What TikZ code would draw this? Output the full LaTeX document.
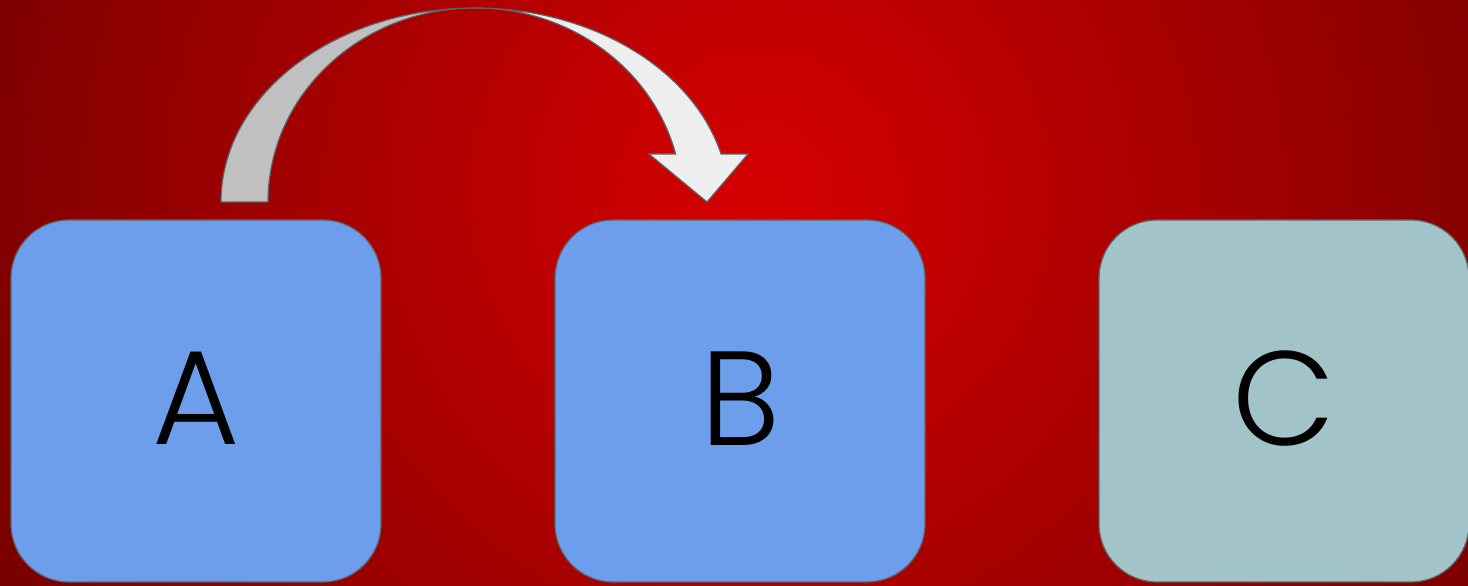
\documentclass[tikz,border=0pt]{standalone}
\usepackage{fontspec}
\newfontfamily\boxfont{Poppins}[UprightFont=* Light]
\definecolor{bgin}{HTML}{D60000}
\definecolor{bgout}{HTML}{7A0000}
\definecolor{boxblue}{HTML}{6D9EEB}
\definecolor{boxteal}{HTML}{A2C4C9}
\definecolor{edgegray}{HTML}{5F6368}
\definecolor{arrback}{HTML}{C0C0C0}
\definecolor{arrfront}{HTML}{EEEEEE}
\tikzset{
  stepbox/.style={draw=edgegray, line width=1.2pt, rounded corners=58pt,
    minimum width=370pt, minimum height=362pt, inner sep=0pt,
    font=\boxfont\fontsize{134}{140}\selectfont, text=black},
  arrowpart/.style={draw=edgegray, line width=1.2pt, line join=miter}
}
\begin{document}
\begin{tikzpicture}[x=1pt,y=1pt]
\useasboundingbox (0,0) rectangle (1468,586);
\fill[bgout] (0,0) rectangle (1468,586);
\begin{scope}
\clip (0,0) rectangle (1468,586);
\shade[inner color=bgin, outer color=bgout] (760,391) circle[radius=830pt];
\end{scope}
% boxes
\node[stepbox, fill=boxblue] (A) at (196,185) {\raisebox{5pt}{A}};
\node[stepbox, fill=boxblue] (B) at (740,185) {\raisebox{5pt}{B}};
\node[stepbox, fill=boxteal] (C) at (1284,185) {\raisebox{5pt}{C}};
% curved block arrow from A to B
\coordinate (tip) at (707,384);
\draw[arrowpart, fill=arrback] (221,384) arc[start angle=180, end angle=90, x radius=254pt, y radius=194pt]
  arc[start angle=90, end angle=180, x radius=207pt, y radius=194pt] -- cycle;
\draw[arrowpart, fill=arrfront] (475,578) arc[start angle=90, end angle=14.3, x radius=254pt, y radius=194pt]
  -- (748,432) -- (tip) -- (649,432) -- (675.6,432)
  arc[start angle=14.3, end angle=90, x radius=207pt, y radius=194pt] -- cycle;
\end{tikzpicture}
\end{document}
